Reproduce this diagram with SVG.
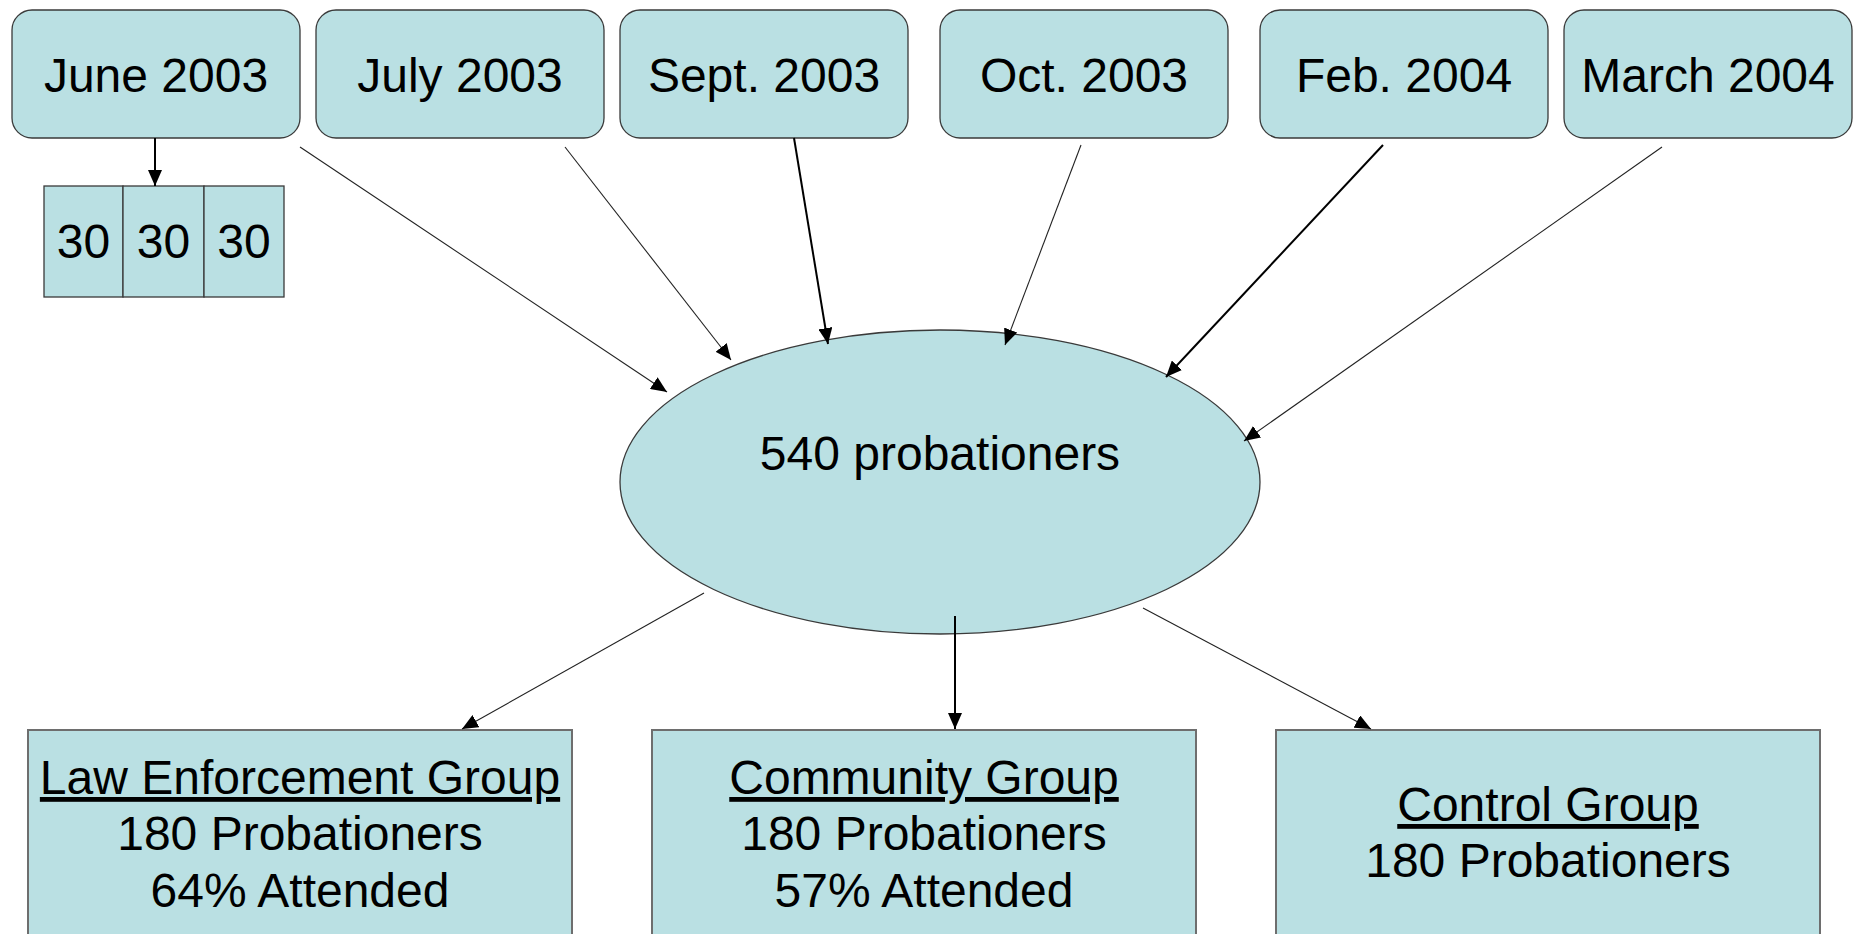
<svg xmlns="http://www.w3.org/2000/svg" width="1858" height="934" viewBox="0 0 1858 934">
<style>
.box{fill:#BAE0E3;stroke:#3a3a3a;stroke-width:1.3}
.grp{fill:#BAE0E3;stroke:#6e6e6e;stroke-width:2}
.t{font-family:"Liberation Sans",Arial,sans-serif;font-size:48px;fill:#000;text-anchor:middle}
.c{fill:none;stroke:#222;stroke-width:1.1}
.k{fill:none;stroke:#000;stroke-width:2}
</style>
<defs>
<marker id="ah" markerUnits="userSpaceOnUse" markerWidth="16" markerHeight="14" viewBox="0 0 16 14" refX="16" refY="7" orient="auto">
<path d="M0,0 L16,7 L0,14 Z" fill="#000"/>
</marker>
</defs>
<g id="june"><rect class="box" x="12" y="10" width="288" height="128" rx="20"/><text class="t" x="156" y="92">June 2003</text></g>
<g id="july"><rect class="box" x="316" y="10" width="288" height="128" rx="20"/><text class="t" x="460" y="92">July 2003</text></g>
<g id="sept"><rect class="box" x="620" y="10" width="288" height="128" rx="20"/><text class="t" x="764" y="92">Sept. 2003</text></g>
<g id="oct"><rect class="box" x="940" y="10" width="288" height="128" rx="20"/><text class="t" x="1084" y="92">Oct. 2003</text></g>
<g id="feb"><rect class="box" x="1260" y="10" width="288" height="128" rx="20"/><text class="t" x="1404" y="92">Feb. 2004</text></g>
<g id="march"><rect class="box" x="1564" y="10" width="288" height="128" rx="20"/><text class="t" x="1708" y="92">March 2004</text></g>
<g id="cells">
<rect class="box" x="44" y="186" width="79" height="111"/>
<rect class="box" x="123" y="186" width="81" height="111"/>
<rect class="box" x="204" y="186" width="80" height="111"/>
<text class="t" x="83.5" y="258">30</text>
<text class="t" x="163.5" y="258">30</text>
<text class="t" x="244" y="258">30</text>
</g>
<g id="pool"><ellipse class="box" cx="940" cy="482" rx="320" ry="152"/><text class="t" x="940" y="470">540 probationers</text></g>
<g id="law"><rect class="grp" x="28" y="730" width="544" height="220"/>
<text class="t" x="300" y="794" text-decoration="underline">Law Enforcement Group</text>
<text class="t" x="300" y="850">180 Probationers</text>
<text class="t" x="300" y="907">64% Attended</text></g>
<g id="community"><rect class="grp" x="652" y="730" width="544" height="220"/>
<text class="t" x="924" y="794" text-decoration="underline">Community Group</text>
<text class="t" x="924" y="850">180 Probationers</text>
<text class="t" x="924" y="907">57% Attended</text></g>
<g id="control"><rect class="grp" x="1276" y="730" width="544" height="220"/>
<text class="t" x="1548" y="821" text-decoration="underline">Control Group</text>
<text class="t" x="1548" y="877">180 Probationers</text></g>
<g id="connectors">
<line class="k" x1="155" y1="138" x2="155" y2="186" marker-end="url(#ah)"/>
<line class="c" x1="300" y1="147" x2="667" y2="392" marker-end="url(#ah)"/>
<line class="c" x1="565" y1="147" x2="731" y2="360" marker-end="url(#ah)"/>
<line class="k" x1="794" y1="138" x2="828" y2="344" marker-end="url(#ah)"/>
<line class="c" x1="1081" y1="145" x2="1005" y2="345" marker-end="url(#ah)"/>
<line class="k" x1="1383" y1="145" x2="1166" y2="377" marker-end="url(#ah)"/>
<line class="c" x1="1662" y1="147" x2="1244" y2="441" marker-end="url(#ah)"/>
<line class="c" x1="704" y1="593" x2="462" y2="729" marker-end="url(#ah)"/>
<line class="k" x1="955" y1="616" x2="955" y2="729" marker-end="url(#ah)"/>
<line class="c" x1="1143" y1="608" x2="1371" y2="729" marker-end="url(#ah)"/>
</g>
</svg>
